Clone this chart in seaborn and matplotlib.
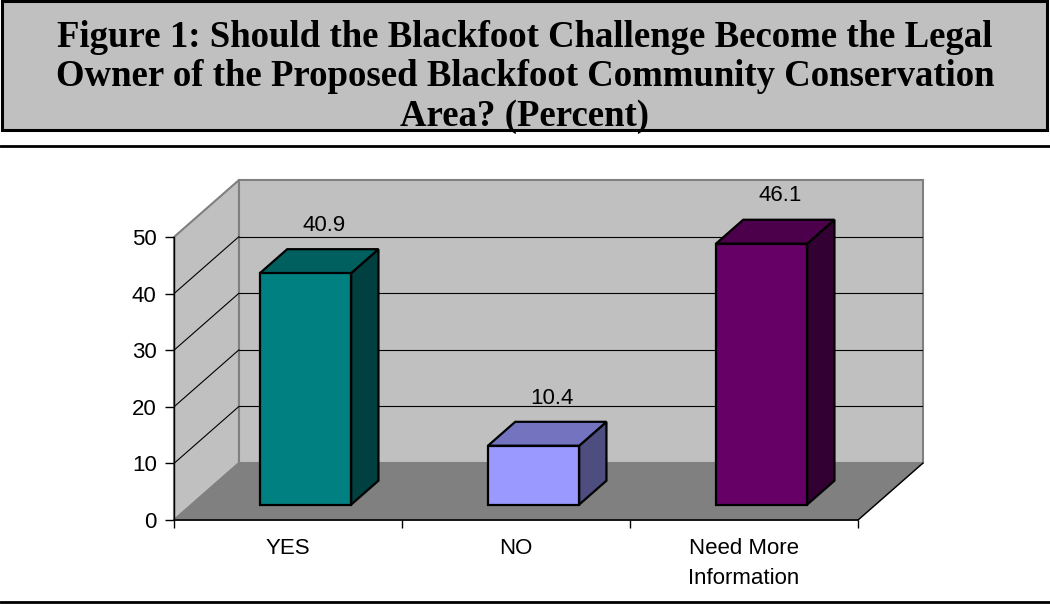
import matplotlib
matplotlib.use("Agg")
import matplotlib.pyplot as plt
from matplotlib.patches import Polygon, Rectangle
from matplotlib.lines import Line2D
import seaborn as sns
import pandas as pd

# ---- data ----
categories = ["YES", "NO", "Need More Information"]
tick_labels = ["YES", "NO", "Need More\nInformation"]
values = [40.9, 10.4, 46.1]
front_colors = ["#008080", "#9999FF", "#660066"]
side_colors = ["#004040", "#4D4D80", "#330033"]
top_colors = ["#006060", "#7373BF", "#4C004C"]
y_ticks = [0, 10, 20, 30, 40, 50]
title = ("Figure 1: Should the Blackfoot Challenge Become the Legal\n"
         "Owner of the Proposed Blackfoot Community Conservation\n"
         "Area? (Percent)")

sns.set_style("white")
plt.rcParams["font.family"] = ["Liberation Sans", "DejaVu Sans"]
plt.rcParams["text.color"] = "black"
plt.rcParams["xtick.color"] = "black"
plt.rcParams["ytick.color"] = "black"
plt.rcParams["xtick.labelcolor"] = "black"
plt.rcParams["ytick.labelcolor"] = "black"

W, H = 1050, 604
fig = plt.figure(figsize=(W / 100, H / 100), dpi=100)
fig.patch.set_facecolor("white")

# ---- title box ----
fig.patches.append(Rectangle((1.5 / W, 1 - 130 / H), 1045 / W, 128.5 / H,
                             transform=fig.transFigure, facecolor="#C0C0C0",
                             edgecolor="black", linewidth=2.2))
fig.text(0.5, 1 - 77 / H, title, ha="center", va="center",
         family="Liberation Serif", weight="bold", fontsize=26.5,
         linespacing=1.15, color="black")
fig.lines.append(Line2D([0, 1], [1 - 146 / H] * 2, transform=fig.transFigure,
                        color="black", linewidth=2))
fig.lines.append(Line2D([0, 1], [1 - 602 / H] * 2, transform=fig.transFigure,
                        color="black", linewidth=2))

# ---- chart axes ----
ax = fig.add_axes([174 / W, 84 / H, 749 / W, 340 / H])
DX = 0.285   # depth in category units
DY = 10.07   # depth in value units

df = pd.DataFrame({"category": categories, "value": values})
sns.barplot(data=df, x="category", y="value", hue="category",
            palette=front_colors, saturation=1, width=0.4, edgecolor="black",
            linewidth=1.6, legend=False, ax=ax, zorder=4)
bars = list(ax.patches)
ax.set_xlim(-0.5, 2.5 + DX)
ax.set_ylim(0, 50 + DY)

f0, f1 = 0.27, 0.69  # front / back plane of bars as fraction of depth
bdx, bdy = (f1 - f0) * DX, (f1 - f0) * DY
for i, p in enumerate(bars):
    p.set_x(p.get_x() + f0 * DX)
    p.set_y(p.get_y() + f0 * DY)
    x0, y0 = p.get_x(), p.get_y()
    x1, y1 = x0 + p.get_width(), y0 + p.get_height()
    side = Polygon([(x1, y0), (x1 + bdx, y0 + bdy), (x1 + bdx, y1 + bdy), (x1, y1)],
                   closed=True, facecolor=side_colors[i], edgecolor="black",
                   linewidth=1.6, zorder=3.9, clip_on=False)
    top = Polygon([(x0, y1), (x0 + bdx, y1 + bdy), (x1 + bdx, y1 + bdy), (x1, y1)],
                  closed=True, facecolor=top_colors[i], edgecolor="black",
                  linewidth=1.6, zorder=3.9, clip_on=False)
    ax.add_patch(side)
    ax.add_patch(top)
    ax.text(i + 0.55 * DX, values[i] + f1 * DY + 4.2, f"{values[i]}",
            ha="center", va="center", fontsize=16, color="black", zorder=5)

# walls and floor
xl, xr = -0.5, 2.5
ymax = max(y_ticks)
left_wall = Polygon([(xl, 0), (xl, ymax), (xl + DX, ymax + DY), (xl + DX, DY)],
                    closed=True, facecolor="#C0C0C0", edgecolor="#808080",
                    linewidth=1.5, zorder=0, clip_on=False)
back_wall = Polygon([(xl + DX, DY), (xl + DX, ymax + DY), (xr + DX, ymax + DY), (xr + DX, DY)],
                    closed=True, facecolor="#C0C0C0", edgecolor="#808080",
                    linewidth=1.5, zorder=0, clip_on=False)
floor = Polygon([(xl, 0), (xr, 0), (xr + DX, DY), (xl + DX, DY)],
                closed=True, facecolor="#808080", edgecolor="#808080",
                linewidth=1, zorder=1, clip_on=False)
for poly in (left_wall, back_wall, floor):
    ax.add_patch(poly)

for v in y_ticks[1:-1]:
    ax.plot([xl + DX, xr + DX], [v + DY, v + DY], color="black", lw=0.8, zorder=2)
    ax.plot([xl, xl + DX], [v, v + DY], color="black", lw=0.8, zorder=2)

# axis lines
ax.plot([xl, xl], [0, ymax], color="black", lw=1, zorder=5, clip_on=False)
ax.plot([xl, xr], [0, 0], color="black", lw=1.2, zorder=5, clip_on=False)
ax.plot([xr, xr + DX], [0, DY], color="black", lw=1, zorder=2, clip_on=False)

for s in ax.spines.values():
    s.set_visible(False)
ax.set_facecolor("none")
ax.grid(False)

ax.set_yticks(y_ticks)
ax.set_yticklabels([str(t) for t in y_ticks])
ax.tick_params(axis="y", which="major", left=True, direction="out", length=6.5,
               width=1, color="black", pad=6, labelsize=16, labelcolor="black")
ax.set_xticks([0, 1, 2])
ax.set_xticklabels(tick_labels, multialignment="center", linespacing=1.55)
ax.set_xticks([-0.5, 0.5, 1.5, 2.5], minor=True)
ax.tick_params(axis="x", which="major", bottom=True, length=0, pad=13,
               labelsize=16, labelcolor="black")
ax.tick_params(axis="x", which="minor", bottom=True, direction="out",
               length=6, width=1, color="black")
ax.set_xlabel("")
ax.set_ylabel("")

fig.savefig("out.png", dpi=100)
